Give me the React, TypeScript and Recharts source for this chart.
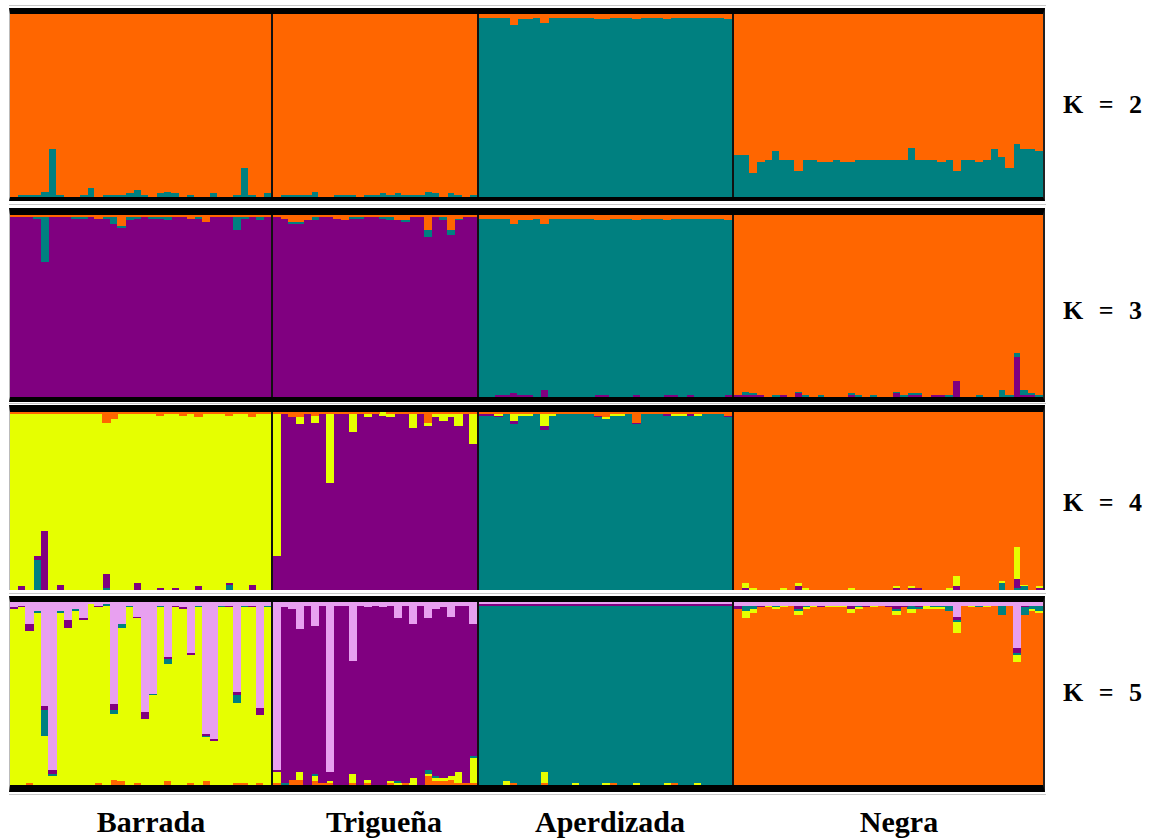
import React from "react";
import { Bar, BarChart, XAxis, YAxis } from "recharts";

// membership proportions (%) per individual
const groups = ["Barrada", "Trigueña", "Aperdizada", "Negra"];
const groupSizes = [34, 27, 33, 41];
const groupWidths = [261, 204, 253, 309];
const groupLabelX = [151, 384, 610, 899];

const colors: Record<string, string> = {
  orange: "#ff6600",
  teal: "#008080",
  purple: "#800080",
  yellow: "#e6ff00",
  pink: "#e8a0f0"
};

// K = 2
const k2Teal = [
  0, 1, 1, 1, 3, 26, 1, 0, 0, 1, 5, 0, 1, 1, 1, 2, 4, 1, 0, 2, 3, 2, 0, 1, 0, 0, 2, 0, 0, 1, 16, 1, 0, 2,
  0, 1, 1, 1, 1, 3, 0, 0, 1, 1, 1, 0, 1, 1, 2, 1, 2, 1, 1, 1, 3, 2, 0, 2, 1, 0, 1,
  98, 98, 98, 98, 94, 97, 97, 98, 95, 98, 98, 98, 98, 98, 98, 97, 97, 98, 98, 98, 97, 98, 98, 98, 97, 98, 98, 98, 98, 98, 98, 98, 97,
  23, 23, 13, 19, 20, 25, 20, 20, 14, 20, 20, 19, 19, 20, 19, 19, 20, 20, 20, 20, 20, 20, 20, 27, 20, 20, 20, 19, 20, 14, 20, 20, 19, 20, 26, 22, 16, 29, 26, 26, 25
];
const k2Orange = [
  100, 99, 99, 99, 97, 74, 99, 100, 100, 99, 95, 100, 99, 99, 99, 98, 96, 99, 100, 98, 97, 98, 100, 99, 100, 100, 98, 100, 100, 99, 84, 99, 100, 98,
  100, 99, 99, 99, 99, 97, 100, 100, 99, 99, 99, 100, 99, 99, 98, 99, 98, 99, 99, 99, 97, 98, 100, 98, 99, 100, 99,
  2, 2, 2, 2, 6, 3, 3, 2, 5, 2, 2, 2, 2, 2, 2, 3, 3, 2, 2, 2, 3, 2, 2, 2, 3, 2, 2, 2, 2, 2, 2, 2, 3,
  77, 77, 87, 81, 80, 75, 80, 80, 86, 80, 80, 81, 81, 80, 81, 81, 80, 80, 80, 80, 80, 80, 80, 73, 80, 80, 80, 81, 80, 86, 80, 80, 81, 80, 74, 78, 84, 71, 74, 74, 75
];

// K = 3
const k3Purple = [
  99, 99, 99, 98, 74, 99, 99, 99, 98, 98, 99, 98, 98, 95, 93, 97, 98, 99, 98, 98, 97, 99, 99, 98, 98, 96, 99, 99, 99, 92, 98, 99, 97, 99,
  99, 98, 95, 95, 97, 97, 99, 99, 98, 97, 98, 98, 99, 99, 98, 97, 97, 96, 99, 99, 88, 99, 97, 89, 97, 99, 99,
  0, 0, 1, 1, 2, 1, 1, 0, 4, 0, 0, 0, 0, 0, 0, 1, 1, 0, 0, 0, 1, 0, 0, 0, 1, 1, 0, 1, 0, 0, 0, 0, 1,
  1, 1, 1, 1, 0, 0, 1, 0, 2, 0, 0, 0, 0, 0, 0, 1, 0, 0, 0, 0, 0, 2, 0, 1, 1, 0, 1, 1, 0, 9, 0, 0, 0, 0, 0, 0, 0, 22, 1, 1, 0
];
const k3Teal = [
  0, 0, 0, 1, 25, 0, 0, 0, 1, 1, 0, 0, 1, 4, 1, 2, 1, 0, 1, 1, 2, 0, 0, 0, 1, 0, 0, 0, 0, 7, 1, 0, 2, 0,
  0, 0, 1, 1, 0, 2, 0, 0, 0, 0, 1, 1, 0, 0, 1, 2, 0, 1, 0, 0, 4, 0, 2, 3, 1, 0, 0,
  98, 98, 97, 97, 93, 96, 96, 98, 91, 98, 98, 98, 98, 98, 98, 96, 96, 98, 98, 98, 96, 98, 98, 98, 96, 97, 98, 97, 98, 98, 98, 98, 96,
  0, 2, 1, 0, 0, 1, 0, 0, 1, 1, 0, 1, 0, 0, 0, 1, 1, 0, 1, 0, 0, 1, 1, 1, 1, 0, 0, 0, 1, 0, 0, 0, 1, 0, 0, 4, 1, 2, 3, 1, 1
];
const k3Orange = [
  1, 1, 1, 1, 1, 1, 1, 1, 1, 1, 1, 2, 1, 1, 6, 1, 1, 1, 1, 1, 1, 1, 1, 2, 1, 4, 1, 1, 1, 1, 1, 1, 1, 1,
  1, 2, 4, 4, 3, 1, 1, 1, 2, 3, 1, 1, 1, 1, 1, 1, 3, 3, 1, 1, 8, 1, 1, 8, 2, 1, 1,
  2, 2, 2, 2, 5, 3, 3, 2, 5, 2, 2, 2, 2, 2, 2, 3, 3, 2, 2, 2, 3, 2, 2, 2, 3, 2, 2, 2, 2, 2, 2, 2, 3,
  99, 97, 98, 99, 100, 99, 99, 100, 97, 99, 100, 99, 100, 100, 100, 98, 99, 100, 99, 100, 100, 97, 99, 98, 98, 100, 99, 99, 99, 91, 100, 100, 99, 100, 100, 96, 99, 76, 96, 98, 99
];

// K = 4
const k4Teal = [
  0, 0, 0, 17, 0, 0, 0, 0, 0, 0, 0, 0, 1, 0, 0, 0, 0, 0, 0, 0, 0, 0, 0, 0, 0, 0, 0, 0, 3, 0, 0, 0, 0, 0,
  0, 0, 0, 0, 0, 0, 0, 0, 0, 0, 0, 0, 0, 0, 0, 0, 0, 0, 0, 0, 0, 0, 0, 0, 0, 0, 0,
  98, 98, 97, 99, 93, 98, 98, 99, 90, 98, 99, 99, 99, 99, 99, 97, 96, 98, 98, 99, 93, 99, 99, 99, 98, 98, 98, 98, 98, 99, 99, 99, 97,
  0, 0, 0, 0, 0, 0, 0, 0, 0, 0, 0, 0, 0, 0, 0, 0, 0, 0, 0, 0, 0, 0, 0, 0, 0, 0, 0, 0, 0, 0, 0, 0, 0, 0, 0, 4, 0, 1, 2, 0, 0
];
const k4Purple = [
  0, 2, 0, 2, 33, 0, 3, 0, 0, 0, 0, 0, 8, 0, 0, 0, 4, 0, 0, 1, 0, 1, 0, 0, 2, 0, 0, 0, 1, 0, 0, 3, 0, 0,
  19, 99, 97, 93, 99, 94, 99, 60, 99, 99, 89, 99, 97, 99, 98, 97, 99, 99, 91, 99, 92, 97, 95, 97, 92, 99, 82,
  1, 1, 1, 0, 2, 0, 0, 0, 2, 0, 0, 0, 0, 0, 0, 1, 0, 0, 0, 0, 1, 0, 0, 0, 1, 0, 0, 1, 0, 0, 0, 0, 1,
  0, 1, 0, 0, 0, 0, 0, 0, 2, 0, 0, 0, 0, 0, 0, 0, 0, 0, 0, 0, 0, 1, 0, 1, 1, 0, 0, 0, 0, 2, 0, 0, 0, 0, 0, 0, 0, 5, 0, 0, 1
];
const k4Yellow = [
  99, 97, 99, 80, 66, 99, 96, 99, 99, 99, 99, 99, 85, 96, 99, 99, 95, 99, 99, 97, 99, 98, 98, 99, 95, 99, 99, 99, 94, 99, 99, 94, 99, 99,
  80, 0, 0, 4, 0, 4, 0, 39, 0, 0, 10, 0, 2, 0, 2, 2, 0, 0, 8, 0, 2, 2, 4, 2, 7, 0, 17,
  0, 0, 1, 0, 4, 1, 1, 0, 7, 1, 0, 0, 0, 0, 0, 0, 1, 1, 1, 0, 0, 0, 0, 0, 0, 1, 1, 0, 1, 0, 0, 0, 0,
  0, 3, 1, 0, 0, 0, 1, 0, 2, 1, 0, 0, 0, 0, 0, 1, 0, 0, 0, 0, 0, 1, 0, 1, 0, 0, 0, 0, 1, 6, 0, 0, 0, 0, 0, 1, 0, 18, 1, 0, 1
];
const k4Orange = [
  1, 1, 1, 1, 1, 1, 1, 1, 1, 1, 1, 1, 6, 4, 1, 1, 1, 1, 1, 2, 1, 1, 2, 1, 3, 1, 1, 1, 2, 1, 1, 3, 1, 1,
  1, 1, 3, 3, 1, 2, 1, 1, 1, 1, 1, 1, 1, 1, 0, 1, 1, 1, 1, 1, 6, 1, 1, 1, 1, 1, 1,
  1, 1, 1, 1, 1, 1, 1, 1, 1, 1, 1, 1, 1, 1, 1, 2, 3, 1, 1, 1, 6, 1, 1, 1, 1, 1, 1, 1, 1, 1, 1, 1, 2,
  100, 96, 99, 100, 100, 100, 99, 100, 96, 99, 100, 100, 100, 100, 100, 99, 100, 100, 100, 100, 100, 98, 100, 98, 99, 100, 100, 100, 99, 92, 100, 100, 100, 100, 100, 95, 100, 76, 97, 100, 98
];

// K = 5
const k5Orange = [
  0, 0, 1, 0, 0, 0, 0, 0, 0, 0, 0, 1, 0, 3, 2, 0, 1, 0, 0, 0, 2, 0, 0, 1, 0, 2, 0, 0, 0, 1, 1, 0, 1, 0,
  1, 0, 3, 3, 0, 2, 1, 1, 0, 0, 1, 0, 1, 0, 0, 1, 0, 1, 0, 0, 5, 2, 2, 3, 1, 1, 1,
  0, 0, 0, 0, 1, 0, 0, 0, 1, 0, 0, 0, 0, 0, 0, 0, 0, 1, 0, 0, 0, 0, 0, 0, 0, 1, 0, 0, 0, 0, 0, 0, 0,
  96, 91, 94, 97, 97, 96, 97, 98, 93, 96, 97, 97, 97, 97, 97, 94, 96, 97, 97, 98, 97, 93, 97, 94, 96, 96, 96, 96, 95, 83, 98, 97, 97, 97, 98, 93, 98, 67, 93, 95, 94
];
const k5Yellow = [
  96, 97, 83, 94, 27, 5, 94, 86, 95, 90, 99, 96, 98, 36, 84, 97, 90, 36, 49, 97, 64, 97, 96, 70, 97, 24, 24, 97, 97, 44, 96, 97, 37, 97,
  6, 0, 0, 4, 0, 3, 0, 1, 0, 0, 5, 0, 2, 0, 0, 1, 1, 0, 4, 0, 1, 2, 2, 2, 6, 0, 14,
  0, 0, 0, 2, 0, 0, 0, 0, 6, 0, 0, 0, 1, 0, 0, 0, 1, 0, 0, 0, 1, 0, 0, 0, 1, 0, 0, 0, 1, 0, 0, 0, 0,
  0, 4, 2, 0, 1, 1, 1, 0, 2, 1, 1, 0, 1, 1, 1, 2, 1, 0, 1, 0, 0, 2, 0, 2, 0, 2, 1, 1, 0, 6, 0, 1, 0, 1, 0, 0, 0, 4, 0, 1, 1
];
const k5Teal = [
  0, 0, 0, 1, 14, 1, 1, 0, 1, 0, 0, 0, 1, 2, 2, 1, 0, 0, 1, 1, 3, 0, 0, 0, 1, 1, 0, 1, 0, 4, 1, 0, 0, 1,
  0, 1, 0, 0, 0, 1, 0, 0, 0, 0, 0, 0, 0, 0, 0, 0, 1, 0, 0, 0, 2, 1, 0, 0, 0, 0, 1,
  98, 98, 98, 96, 97, 98, 98, 98, 91, 98, 98, 98, 97, 98, 98, 98, 97, 97, 98, 98, 97, 98, 98, 98, 97, 97, 98, 98, 97, 98, 98, 98, 98,
  0, 3, 2, 0, 0, 1, 0, 0, 1, 1, 0, 0, 0, 0, 0, 0, 1, 0, 0, 0, 0, 1, 0, 2, 1, 0, 1, 1, 3, 1, 0, 0, 1, 0, 0, 5, 0, 1, 4, 2, 3
];
const k5Purple = [
  1, 1, 4, 0, 2, 2, 0, 4, 0, 1, 0, 1, 0, 3, 0, 0, 1, 4, 0, 0, 1, 1, 1, 1, 0, 1, 1, 0, 1, 2, 0, 1, 4, 0,
  1, 96, 93, 78, 98, 81, 97, 5, 98, 98, 62, 98, 94, 98, 97, 96, 89, 97, 84, 98, 83, 91, 93, 87, 91, 97, 72,
  1, 1, 1, 1, 1, 1, 1, 1, 1, 1, 1, 1, 1, 1, 1, 1, 1, 1, 1, 1, 1, 1, 1, 1, 1, 1, 1, 1, 1, 1, 1, 1, 1,
  2, 0, 0, 1, 0, 0, 0, 0, 2, 0, 0, 1, 0, 0, 0, 2, 0, 1, 0, 0, 1, 2, 1, 0, 1, 0, 0, 0, 0, 2, 0, 0, 0, 0, 0, 0, 0, 3, 1, 0, 0
];
const k5Pink = [
  3, 2, 12, 5, 57, 92, 5, 10, 4, 9, 1, 2, 1, 56, 12, 2, 8, 60, 50, 2, 30, 2, 3, 28, 2, 72, 75, 2, 2, 49, 2, 2, 58, 2,
  92, 3, 4, 15, 2, 13, 2, 93, 2, 2, 32, 2, 3, 2, 3, 2, 9, 2, 12, 2, 9, 4, 3, 8, 2, 2, 12,
  1, 1, 1, 1, 1, 1, 1, 1, 1, 1, 1, 1, 1, 1, 1, 1, 1, 1, 1, 1, 1, 1, 1, 1, 1, 1, 1, 1, 1, 1, 1, 1, 1,
  2, 2, 2, 2, 2, 2, 2, 2, 2, 2, 2, 2, 2, 2, 2, 2, 2, 2, 2, 2, 2, 2, 2, 2, 2, 2, 2, 2, 2, 8, 2, 2, 2, 2, 2, 2, 2, 25, 2, 2, 2
];

type Layer = [string, number[]];

// layers are listed bottom -> top
const panels: { label: string; top: number; bt: number; h: number; bb: number; labelTop: number; layers: Layer[] }[] = [
  { label: "K = 2", top: 8, bt: 6, h: 183, bb: 4, labelTop: 92, layers: [["teal", k2Teal], ["orange", k2Orange]] },
  {
    label: "K = 3", top: 208, bt: 7, h: 182, bb: 5, labelTop: 298,
    layers: [["purple", k3Purple], ["teal", k3Teal], ["orange", k3Orange]]
  },
  {
    label: "K = 4", top: 405, bt: 7, h: 178, bb: 0, labelTop: 490,
    layers: [["teal", k4Teal], ["purple", k4Purple], ["yellow", k4Yellow], ["orange", k4Orange]]
  },
  {
    label: "K = 5", top: 596, bt: 6, h: 183, bb: 7, labelTop: 680,
    layers: [["orange", k5Orange], ["yellow", k5Yellow], ["teal", k5Teal], ["purple", k5Purple], ["pink", k5Pink]]
  }
];

const serif = "'Liberation Serif', 'Times New Roman', serif";

// bars overlap their right neighbour a little so no seams show between individuals
const BlockShape = (props: any) => {
  const { x, y, width, height, fill } = props;
  if (!height || height <= 0) return null;
  return <rect x={x} y={y} width={width + 0.8} height={height} fill={fill} shapeRendering="crispEdges" />;
};

function GroupChart({ layers, start, n, width, height }: { layers: Layer[]; start: number; n: number; width: number; height: number }) {
  const data = Array.from({ length: n }, (_, i) => {
    const row: Record<string, number> = { id: i };
    layers.forEach(([name, vals]) => {
      row[name] = vals[start + i];
    });
    return row;
  });
  return (
    <BarChart width={width} height={height} data={data} margin={{ top: 0, right: 0, bottom: 0, left: 0 }} barCategoryGap={0} barGap={0}>
      <XAxis dataKey="id" hide />
      <YAxis hide domain={[0, 100]} allowDataOverflow />
      {layers.map(([name]) => (
        <Bar
          key={name}
          dataKey={name}
          stackId="q"
          fill={colors[name]}
          barSize={width / n - 0.02}
          shape={BlockShape}
          isAnimationActive={false}
        />
      ))}
    </BarChart>
  );
}

export default function App() {
  const starts = groupSizes.map((_, i) => groupSizes.slice(0, i).reduce((a, b) => a + b, 0));
  return (
    <div style={{ position: "absolute", left: 0, top: 0, width: 1160, height: 838, background: "#fff", overflow: "hidden" }}>
      {[5, 204, 403, 593, 794].map((y) => (
        <div key={y} style={{ position: "absolute", left: 9, top: y, width: 1037, height: 1, background: "#c8c8c8" }} />
      ))}
      {panels.map((p) => (
        <React.Fragment key={p.label}>
          <div
            style={{
              position: "absolute",
              left: 9,
              top: p.top,
              width: 1033,
              height: p.h,
              display: "flex",
              overflow: "hidden",
              borderTop: `${p.bt}px solid #000`,
              borderBottom: `${p.bb}px solid #000`,
              borderLeft: "1px solid #bbb",
              borderRight: "2px solid #222"
            }}
          >
            {groups.map((g, gi) => (
              <React.Fragment key={g}>
                {gi > 0 ? <div style={{ width: 2, height: p.h, background: "#111", flexShrink: 0 }} /> : null}
                <div style={{ width: groupWidths[gi], height: p.h, overflow: "hidden", flexShrink: 0 }}>
                  <GroupChart layers={p.layers} start={starts[gi]} n={groupSizes[gi]} width={groupWidths[gi]} height={p.h} />
                </div>
              </React.Fragment>
            ))}
          </div>
          <div
            style={{
              position: "absolute",
              left: 1063,
              top: p.labelTop,
              fontFamily: serif,
              fontWeight: "bold",
              fontSize: 26,
              lineHeight: "26px",
              wordSpacing: 9,
              whiteSpace: "pre"
            }}
          >
            {p.label}
          </div>
        </React.Fragment>
      ))}
      {groups.map((g, gi) => (
        <div
          key={g}
          style={{
            position: "absolute",
            left: groupLabelX[gi] - 120,
            width: 240,
            top: 807,
            textAlign: "center",
            fontFamily: serif,
            fontWeight: "bold",
            fontSize: 30,
            lineHeight: "30px"
          }}
        >
          {g}
        </div>
      ))}
    </div>
  );
}
